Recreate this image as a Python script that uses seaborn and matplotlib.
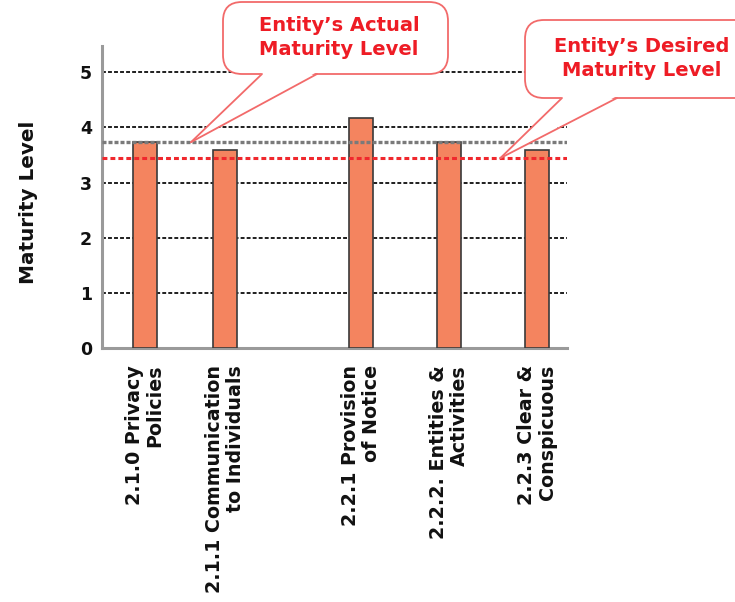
import matplotlib
matplotlib.use("Agg")
import matplotlib.pyplot as plt
import matplotlib.transforms as mtransforms
from matplotlib.patches import FancyBboxPatch, Polygon
from matplotlib.lines import Line2D
import pandas as pd
import seaborn as sns

# ---- data -------------------------------------------------------------
categories = [
    "2.1.0 Privacy\nPolicies",
    "2.1.1 Communication\nto Individuals",
    "2.2.1 Provision\nof Notice",
    "2.2.2. Entities &\nActivities",
    "2.2.3 Clear &\nConspicuous",
]
maturity = [3.73, 3.59, 4.16, 3.73, 3.59]
actual_level = 3.73
desired_level = 3.44
y_ticks = [0, 1, 2, 3, 4, 5]
callout_actual = "Entity\u2019s Actual\nMaturity Level"
callout_desired = "Entity\u2019s Desired\nMaturity Level"

# horizontal slot of each category (wider gap between the 2.1.x and 2.2.x groups)
slots = [0, 1, 2.7, 3.8, 4.9]

# ---- styling ----------------------------------------------------------
W, H, DPI = 735, 602, 100
BAR = "#f4845f"
RED_TXT = "#ee1c25"
RED_EDGE = "#f26a6a"

sns.set_theme(style="white")
plt.rcParams["font.family"] = ["DejaVu Sans"]

fig = plt.figure(figsize=(W / DPI, H / DPI), dpi=DPI)
ax = fig.add_axes([101.7 / W, 1 - 348.3 / H, 465.3 / W, 302.3 / H])

df = pd.DataFrame({"slot": slots, "level": maturity})
sns.barplot(
    data=df, x="slot", y="level", native_scale=True, width=0.31,
    color=BAR, saturation=1, edgecolor="#3a3a3a", linewidth=1.2,
    errorbar=None, ax=ax, zorder=3,
)

ax.set_xlim(-0.541, 5.275)
ax.set_ylim(0, 5.47)

# dashed reference grid behind the bars
for yv in y_ticks[1:]:
    ax.axhline(yv, color="#1e1e1e", lw=1.4, ls=(0, (2.0, 1.1)), zorder=1)

# actual and desired maturity levels across the chart
ax.axhline(actual_level, color="#7a7a7a", lw=2.4, ls=(0, (1.2, 0.6)), zorder=4)
ax.axhline(desired_level, color="#f0282d", lw=2.2, ls=(0, (1.6, 1.0)), zorder=5)

for side in ("top", "right"):
    ax.spines[side].set_visible(False)
for side in ("left", "bottom"):
    ax.spines[side].set_color("#9a9a9a")
    ax.spines[side].set_linewidth(2.2)

ax.set_yticks(y_ticks)
ax.set_yticklabels([str(v) for v in y_ticks], fontsize=12.5, fontweight="bold", color="#111111")
ax.tick_params(axis="y", length=0, pad=7)

ax.set_xticks(slots)
ax.set_xticklabels(categories, rotation=90, fontsize=13.7, fontweight="bold",
                   color="#111111", va="top", ha="center", multialignment="right",
                   linespacing=1.1)
ax.tick_params(axis="x", length=0, pad=12)

ax.set_xlabel("")
ax.set_ylabel("Maturity Level", fontsize=14.4, fontweight="bold", color="#111111")
ax.yaxis.set_label_coords(-0.136, 0.482)

# ---- speech-bubble callouts (figure pixel coordinates) ----------------
ident = mtransforms.IdentityTransform()


def callout(text, box, base, tip, center):
    x0, ytop, x1, ybot = box
    bottom = H - ybot
    fig.add_artist(FancyBboxPatch(
        (x0, bottom), x1 - x0, ybot - ytop,
        boxstyle="round,pad=0,rounding_size=19",
        fc="white", ec=RED_EDGE, lw=1.3, transform=ident, zorder=5,
    ))
    tx, ty = ax.transData.transform(tip)
    fig.add_artist(Polygon(
        [(base[0] + 0.8, bottom + 1.6), (base[1] - 0.8, bottom + 1.6), (tx, ty)],
        closed=True, fc="white", ec="none", transform=ident, zorder=6,
    ))
    for bx in base:
        fig.add_artist(Line2D([bx, tx], [bottom, ty], color=RED_EDGE, lw=1.3,
                              transform=ident, zorder=7))
    fig.text(center[0] / W, 1 - center[1] / H, text, ha="center", va="center",
             color=RED_TXT, fontsize=14, fontweight="bold", linespacing=1.3,
             zorder=8)


callout(callout_actual, (223, 2, 448, 74), (262, 317), (0.575, actual_level), (339, 37.5))
callout(callout_desired, (525, 20, 770, 98), (562, 617), (4.44, desired_level), (642, 58.5))

fig.savefig("out.png", dpi=DPI)
